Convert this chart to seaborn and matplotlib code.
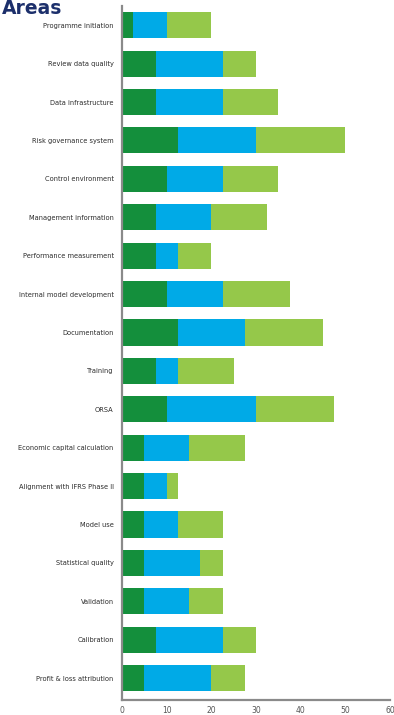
import numpy as np
import pandas as pd
import matplotlib
matplotlib.use("Agg")
import matplotlib.pyplot as plt
import seaborn as sns

areas = [
    "Programme initiation", "Review data quality", "Data infrastructure",
    "Risk governance system", "Control environment", "Management information",
    "Performance measurement", "Internal model development", "Documentation",
    "Training", "ORSA", "Economic capital calculation",
    "Alignment with IFRS Phase II", "Model use", "Statistical quality",
    "Validation", "Calibration", "Profit & loss attribution",
]
dark_green = [2.5, 7.5, 7.5, 12.5, 10, 7.5, 7.5, 10, 12.5, 7.5, 10, 5, 5, 5, 5, 5, 7.5, 5]
blue = [7.5, 15, 15, 17.5, 12.5, 12.5, 5, 12.5, 15, 5, 20, 10, 5, 7.5, 12.5, 10, 15, 15]
light_green = [10, 7.5, 12.5, 20, 12.5, 12.5, 7.5, 15, 17.5, 12.5, 17.5, 12.5, 2.5, 10, 5, 7.5, 7.5, 7.5]

df = pd.DataFrame({"area": areas, "dg": dark_green, "bl": blue, "lg": light_green})
# cumulative ends for the stacked segments
df["c1"] = df["dg"]
df["c2"] = df["dg"] + df["bl"]
df["c3"] = df["c2"] + df["lg"]

sns.set_style("white")
plt.rcParams["font.family"] = ["DejaVu Sans"]

fig = plt.figure(figsize=(3.94, 7.15), dpi=100)
ax = fig.add_axes([122 / 394, 1 - 700 / 715, 268 / 394, 694 / 715])

for col, c in [("c3", "#95c84a"), ("c2", "#00aae7"), ("c1", "#148f3c")]:
    sns.barplot(data=df, x=col, y="area", orient="h", color=c,
                width=0.68, saturation=1, ax=ax, linewidth=0)

ax.set_xlim(0, 60)
ax.set_ylim(17.57, -0.5)
ax.set_xticks([0, 10, 20, 30, 40, 50, 60])
ax.set_xlabel("")
ax.set_ylabel("")
ax.tick_params(axis="y", length=0, labelsize=4.8, colors="#2b2b2b", pad=6)
ax.tick_params(axis="x", length=0, labelsize=5.5, colors="#555555", pad=4)
for s in ["top", "right"]:
    ax.spines[s].set_visible(False)
for s in ["left", "bottom"]:
    ax.spines[s].set_color("#8a8a8a")
    ax.spines[s].set_linewidth(1.6)

fig.text(2 / 394, 1 - 14 / 715, "Areas", fontsize=13.5, fontweight="bold",
         color="#1c2f6b", va="baseline", ha="left")

fig.savefig("out.png", dpi=100)
